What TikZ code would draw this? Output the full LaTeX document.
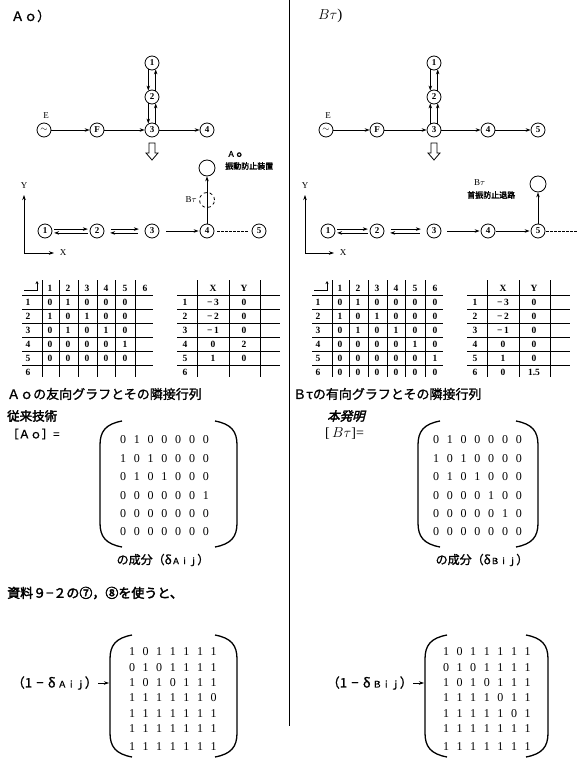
\documentclass[tikz,border=0pt]{standalone}
\usepackage{fontspec}
\setmainfont{Liberation Serif}
\newfontfamily\jp[FakeBold=1.2]{Noto Sans CJK JP}
\newfontfamily\jpb[FakeBold=2.5]{Noto Sans CJK JP}
\newfontfamily\jpbi[FakeBold=2.5,FakeSlant=0.25]{Noto Sans CJK JP}
\usetikzlibrary{arrows.meta}
\newcommand{\fs}[1]{\fontsize{#1}{#1}\selectfont}
\newcommand{\lbrk}[3]{\draw[brk] ({#1+22},#2) .. controls ({#1+6},{#2+3}) and (#1,{#2+10}) .. (#1,{#2+24}) -- (#1,{#3-24}) .. controls (#1,{#3-10}) and ({#1+6},{#3-3}) .. ({#1+22},#3);}
\newcommand{\rbrk}[3]{\draw[brk] ({#1-22},#2) .. controls ({#1-6},{#2+3}) and (#1,{#2+10}) .. (#1,{#2+24}) -- (#1,{#3-24}) .. controls (#1,{#3-10}) and ({#1-6},{#3-3}) .. ({#1-22},#3);}
\begin{document}
\begin{tikzpicture}[x=1pt,y=-1pt,
  gn/.style={circle,draw,line width=0.8pt,minimum size=14pt,inner sep=0pt,font=\fs{9}\bfseries},
  dn/.style={circle,draw,dashed,line width=0.8pt,minimum size=15pt,inner sep=0pt},
  on/.style={circle,draw,line width=0.8pt,minimum size=16pt,inner sep=0pt},
  arr/.style={-{Stealth[length=5pt,width=3.5pt]},line width=0.7pt},
  tline/.style={line width=1pt},
  tdig/.style={font=\fs{9.5}\bfseries,inner sep=0pt},
  mdig/.style={font=\fs{12},inner sep=0pt},
  brk/.style={line width=1.3pt},
  jtext/.style={font=\jp\fs{13},anchor=west,inner sep=0pt},
  smallt/.style={font=\fs{9},inner sep=0pt},
  tiny/.style={font=\jpb\fs{8},inner sep=0pt,anchor=west}]
\useasboundingbox (0,0) rectangle (579,759);
\draw[line width=0.8pt] (289,0) -- (289,726);
% titles
\node[font=\jp\fs{13},anchor=west,inner sep=0] (tA) at (11,16) {Ａｏ）};
\node[font=\fs{15},anchor=west,inner sep=0] (tB) at (318,16) {$B\tau$)};
% ---------- left top graph
\node[gn] (La1) at (152,63) {1};
\node[gn] (La2) at (152,97) {2};
\node[gn] (La3) at (152,130) {3};
\node[gn] (La4) at (207,130) {4};
\node[gn] (LaF) at (97,130) {F};
\node[gn] (LaE) at (44,130) {$\sim$};
\node[smallt] (LaEl) at (46,116) {E};
\draw[arr] (LaE) -- (LaF);
\draw[arr] (LaF) -- (La3);
\draw[arr] (La3) -- (La4);
\draw[arr] (La1.240) -- (La2.120);
\draw[arr] (La2.60) -- (La1.300);
\draw[arr] (La2.240) -- (La3.120);
\draw[arr] (La3.60) -- (La2.300);
\draw[line width=0.8pt] (149,143) -- (155,143) -- (155,153) -- (158,153) -- (152,160) -- (146,153) -- (149,153) -- cycle;
% ---------- left bottom graph
\coordinate (LO) at (24,253);
\coordinate (LYe) at (24,195);
\coordinate (LXe) at (54,253);
\draw[arr] (LO) -- (LYe);
\draw[arr] (LO) -- (LXe);
\node[smallt] (LYl) at (24,186) {Y};
\node[smallt] (LXl) at (63,253) {X};
\node[gn] (Lb1) at (45,231) {1};
\node[gn] (Lb2) at (97,231) {2};
\node[gn] (Lb3) at (152,231) {3};
\node[gn] (Lb4) at (207,231) {4};
\node[gn] (Lb5) at (259,231) {5};
\draw[arr,shorten <=2pt,shorten >=2pt] (Lb1.15) -- (Lb2.165);
\draw[arr,shorten <=2pt,shorten >=2pt] (Lb2.195) -- (Lb1.345);
\draw[arr,shorten <=7pt,shorten >=6pt] (Lb2.15) -- (Lb3.165);
\draw[arr,shorten <=7pt,shorten >=6pt] (Lb3.195) -- (Lb2.345);
\draw[arr,shorten <=7pt,shorten >=1pt] (Lb3) -- (Lb4);
\draw[line width=0.8pt,dash pattern=on 2.5pt off 1.5pt,shorten <=3pt,shorten >=3pt] (Lb4) -- (Lb5);
\node[dn] (Ld) at (207,200) {};
\node[on] (Lc) at (207,168) {};
\draw[arr] (Lb4) -- (Lc);
\node[font=\fs{9},anchor=east,inner sep=0] (LdL) at (197,200) {B$\tau$};
\node[font=\jp\fs{8},anchor=west,inner sep=0] (LcA) at (227,154) {Ａｏ};
\node[tiny] (LcT) at (225,166) {振動防止装置};
% ---------- right top graph
\node[gn] (Ra1) at (434,63) {1};
\node[gn] (Ra2) at (434,97) {2};
\node[gn] (Ra3) at (434,130) {3};
\node[gn] (Ra4) at (488,130) {4};
\node[gn] (Ra5) at (538,130) {5};
\node[gn] (RaF) at (377,130) {F};
\node[gn] (RaE) at (326,130) {$\sim$};
\node[smallt] (RaEl) at (328,116) {E};
\draw[arr] (RaE) -- (RaF);
\draw[arr] (RaF) -- (Ra3);
\draw[arr] (Ra3) -- (Ra4);
\draw[arr] (Ra4) -- (Ra5);
\draw[arr] (Ra1.240) -- (Ra2.120);
\draw[arr] (Ra2.60) -- (Ra1.300);
\draw[arr] (Ra3.120) -- (Ra2.240);
\draw[arr] (Ra3.60) -- (Ra2.300);
\draw[line width=0.8pt] (431,143) -- (437,143) -- (437,153) -- (440,153) -- (434,160) -- (428,153) -- (431,153) -- cycle;
% ---------- right bottom graph
\coordinate (RO) at (305,253);
\coordinate (RYe) at (305,195);
\coordinate (RXe) at (334,253);
\draw[arr] (RO) -- (RYe);
\draw[arr] (RO) -- (RXe);
\node[smallt] (RYl) at (305,186) {Y};
\node[smallt] (RXl) at (343,253) {X};
\node[gn] (Rb1) at (328,231) {1};
\node[gn] (Rb2) at (377,231) {2};
\node[gn] (Rb3) at (434,231) {3};
\node[gn] (Rb4) at (488,231) {4};
\node[gn] (Rb5) at (538,231) {5};
\coordinate (Rend) at (578,231);
\draw[arr,shorten <=2pt,shorten >=2pt] (Rb1.15) -- (Rb2.165);
\draw[arr,shorten <=2pt,shorten >=2pt] (Rb2.195) -- (Rb1.345);
\draw[arr,shorten <=7pt,shorten >=6pt] (Rb2.15) -- (Rb3.165);
\draw[arr,shorten <=7pt,shorten >=6pt] (Rb3.195) -- (Rb2.345);
\draw[arr,shorten <=6pt,shorten >=1pt] (Rb3) -- (Rb4);
\draw[arr,shorten <=1pt,shorten >=1pt] (Rb4) -- (Rb5);
\draw[line width=0.8pt,dash pattern=on 2.5pt off 1.5pt,shorten <=1pt] (Rb5) -- (Rend);
\node[on] (Rc) at (538,184) {};
\draw[arr] (Rb5) -- (Rc);
\node[font=\fs{9},anchor=west,inner sep=0] (RcA) at (474,183) {B$\tau$};
\node[tiny] (RcT) at (467,195) {首振防止退路};
% ---------- tables
\foreach \ox/\s in {0/L,290/R} {
  \foreach \y in {295,309,323,337,351,365} \draw[tline] (\ox+22,\y) -- (\ox+153,\y);
  \foreach \x in {42,59,78,97,115,135} \draw[tline] (\ox+\x,280) -- (\ox+\x,377);
  \draw[line width=0.8pt,-{Stealth[length=3pt,width=3pt]}] (\ox+24,290) -- (\ox+37,290) -- (\ox+37,281);
  \foreach \c [count=\j] in {50,68,87,106,125,145} \node[tdig] (\s h\j) at (\ox+\c,288) {\j};
  \foreach \r [count=\i] in {302,316,330,344,358,372} \node[tdig] (\s r\i) at (\ox+28,\r) {\i};
  \foreach \y in {295,309,323,337,351,365} \draw[tline] (\ox+177,\y) -- (\ox+280,\y);
  \foreach \x in {197,229,260} \draw[tline] (\ox+\x,280) -- (\ox+\x,377);
  \node[tdig] (\s X) at (\ox+213,288) {X};
  \node[tdig] (\s Y) at (\ox+244,288) {Y};
  \foreach \r [count=\i] in {302,316,330,344,358,372} \node[tdig] (\s c\i) at (\ox+185,\r) {\i};
}
\foreach \row [count=\i] in {{0,1,0,0,0},{1,0,1,0,0},{0,1,0,1,0},{0,0,0,0,1},{0,0,0,0,0}} {
  \foreach \d [count=\j] in \row {
    \pgfmathsetmacro{\cx}{{50,68,87,106,125,145}[\j-1]}
    \node[tdig] (Lv\i-\j) at (\cx,{302+14*(\i-1)}) {\d};
  }
}
\foreach \row [count=\i] in {{0,1,0,0,0,0},{1,0,1,0,0,0},{0,1,0,1,0,0},{0,0,0,0,1,0},{0,0,0,0,0,1},{0,0,0,0,0,0}} {
  \foreach \d [count=\j] in \row {
    \pgfmathsetmacro{\cx}{{340,358,377,396,415,435}[\j-1]}
    \node[tdig] (Rv\i-\j) at (\cx,{302+14*(\i-1)}) {\d};
  }
}
\foreach \xv/\yv [count=\i] in {−\,3/0,−\,2/0,−\,1/0,0/2,1/0} {
  \node[tdig] (Lx\i) at (213,{302+14*(\i-1)}) {\xv};
  \node[tdig] (Ly\i) at (244,{302+14*(\i-1)}) {\yv};
}
\foreach \xv/\yv [count=\i] in {−\,3/0,−\,2/0,−\,1/0,0/0,1/0,0/1.5} {
  \node[tdig] (Rx\i) at (503,{302+14*(\i-1)}) {\xv};
  \node[tdig] (Ry\i) at (534,{302+14*(\i-1)}) {\yv};
}
% ---------- captions
\node[jtext] (capA) at (7,394) {Ａｏの友向グラフとその隣接行列};
\node[font=\jpb\fs{12.5},anchor=west,inner sep=0] (prior) at (7,416) {従来技術};
\node[font=\jp\fs{11.5},anchor=west,inner sep=0] (eqA) at (7,434) {［Ａｏ］=};
\node[jtext] (capB) at (293,394) {Ｂτの有向グラフとその隣接行列};
\node[font=\jpbi\fs{12.5},anchor=west,inner sep=0] (inv) at (327,416) {本発明};
\node[font=\fs{14},anchor=west,inner sep=0] (eqB) at (325,434) {[\,$B\tau$]=};
% ---------- matrices A, B
\lbrk{100}{421}{547}
\rbrk{237}{421}{547}
\lbrk{418}{421}{547}
\rbrk{538}{421}{547}
\foreach \row [count=\i] in {{0,1,0,0,0,0,0},{1,0,1,0,0,0,0},{0,1,0,1,0,0,0},{0,0,0,0,0,0,1},{0,0,0,0,0,0,0},{0,0,0,0,0,0,0}} {
  \foreach \d [count=\j] in \row
    \node[mdig] (mA\i-\j) at ({123+13.8*(\j-1)},{440+18.4*(\i-1)}) {\d};
}
\foreach \row [count=\i] in {{0,1,0,0,0,0,0},{1,0,1,0,0,0,0},{0,1,0,1,0,0,0},{0,0,0,0,1,0,0},{0,0,0,0,0,1,0},{0,0,0,0,0,0,0}} {
  \foreach \d [count=\j] in \row
    \node[mdig] (mB\i-\j) at ({436+13.8*(\j-1)},{440+18.4*(\i-1)}) {\d};
}
\node[font=\jp\fs{12},inner sep=0] (compA) at (163,560) {の成分（δ{\fs{8.5}Ａｉｊ}）};
\node[font=\jp\fs{12},inner sep=0] (compB) at (482,560) {の成分（δ{\fs{8.5}Ｂｉｊ}）};
\node[font=\jpb\fs{13},anchor=west,inner sep=0] (use) at (7,593) {資料９−２の⑦，⑧を使うと、};
% ---------- bottom matrices
\lbrk{110}{635}{757}
\rbrk{237}{635}{757}
\lbrk{425}{635}{757}
\rbrk{548}{635}{757}
\foreach \row [count=\i] in {{1,0,1,1,1,1,1},{0,1,0,1,1,1,1},{1,0,1,0,1,1,1},{1,1,1,1,1,1,0},{1,1,1,1,1,1,1},{1,1,1,1,1,1,1}} {
  \foreach \d [count=\j] in \row
    \node[mdig] (nA\i-\j) at ({132+13.6*(\j-1)},{652+15.3*(\i-1)}) {\d};
}
\foreach \j in {1,...,7} \node[mdig] (nA7-\j) at ({132+13.6*(\j-1)},{747}) {1};
\foreach \row [count=\i] in {{1,0,1,1,1,1,1},{0,1,0,1,1,1,1},{1,0,1,0,1,1,1},{1,1,1,1,0,1,1},{1,1,1,1,1,0,1},{1,1,1,1,1,1,1}} {
  \foreach \d [count=\j] in \row
    \node[mdig] (nB\i-\j) at ({446+13.6*(\j-1)},{652+15.3*(\i-1)}) {\d};
}
\foreach \j in {1,...,7} \node[mdig] (nB7-\j) at ({446+13.6*(\j-1)},{747}) {1};
\node[font=\jp\fs{13},anchor=east,inner sep=0] (lblA) at (98,683) {（1\,\,−\,\,δ\,{\fs{9}Ａｉｊ}）};
\node[font=\jp\fs{13},anchor=east,inner sep=0] (lblB) at (413,683) {（1\,\,−\,\,δ\,{\fs{9}Ｂｉｊ}）};
\coordinate (tipA) at (109,683);
\coordinate (tipB) at (424,683);
\draw[arr] (lblA.east) -- (tipA);
\draw[arr] (lblB.east) -- (tipB);
\end{tikzpicture}
\end{document}
